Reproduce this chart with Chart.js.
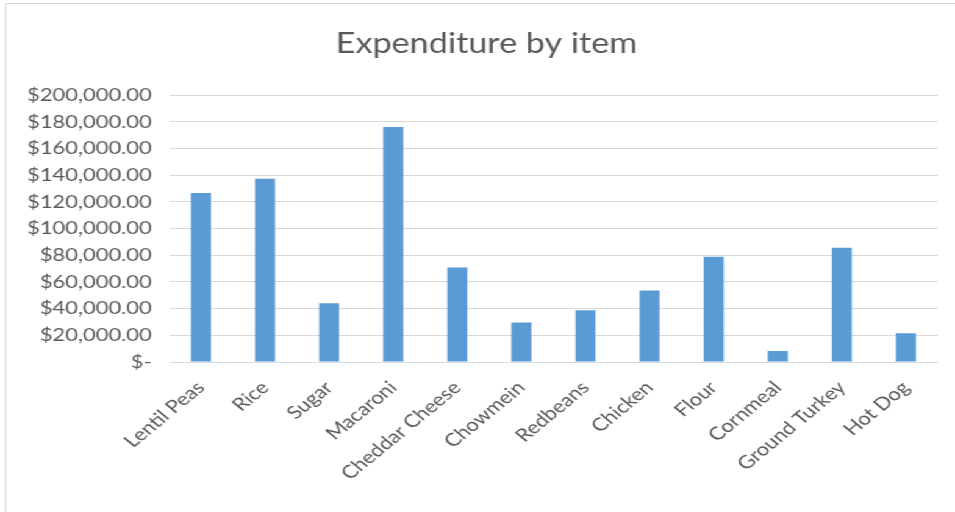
<!DOCTYPE html>
<html>
<head>
<meta charset="utf-8">
<script src="https://cdn.jsdelivr.net/npm/chart.js@4/dist/chart.umd.min.js"></script>
<style>
  html, body { margin: 0; padding: 0; background: #ffffff; overflow: hidden; width: 955px; height: 512px; }
  #stage { position: absolute; left: 0; top: 0; width: 783px; height: 512px; transform: scaleX(1.2197); transform-origin: 0 0; }
  #frame { position: absolute; left: 4px; top: 3px; width: 820px; height: 540px; border: 1px solid #d9d9d9; box-sizing: border-box; }
  #c { position: absolute; left: 0; top: 0; }
</style>
</head>
<body>
<div id="stage">
  <div id="frame"></div>
  <canvas id="c" width="783" height="512"></canvas>
</div>
<script>
const categories = ["Lentil Peas", "Rice", "Sugar", "Macaroni", "Cheddar Cheese", "Chowmein", "Redbeans", "Chicken", "Flour", "Cornmeal", "Ground Turkey", "Hot Dog"];
const expenditure = [126500, 137300, 44000, 176000, 70800, 29500, 38800, 53500, 78800, 8200, 85500, 21500];
const yTickValues = [0, 20000, 40000, 60000, 80000, 100000, 120000, 140000, 160000, 180000, 200000];
const chartTitle = "Expenditure by item";

function fmtMoney(v) {
  if (v === 0) return "$-";
  return "$" + v.toLocaleString("en-US", { minimumFractionDigits: 2, maximumFractionDigits: 2 });
}

const textColor = "#595959";
const fontFamily = "Lato, 'Open Sans', sans-serif";

// Excel centres the title over a slightly wider box than Chart.js does
const titleShift = {
  id: "titleShift",
  afterLayout(chart) {
    if (chart.titleBlock) { chart.titleBlock.left += 28.8; }
  }
};

new Chart(document.getElementById("c"), {
  type: "bar",
  data: {
    labels: categories,
    datasets: [{
      data: expenditure,
      backgroundColor: "#5B9BD5",
      borderWidth: 0,
      categoryPercentage: 1.0,
      barPercentage: 0.3125
    }]
  },
  plugins: [titleShift],
  options: {
    responsive: false,
    animation: false,
    devicePixelRatio: 1,
    layout: { padding: { left: 0, right: 14, top: 0, bottom: 0 } },
    plugins: {
      legend: { display: false },
      tooltip: { enabled: false },
      title: {
        display: true,
        text: chartTitle,
        color: textColor,
        font: { family: fontFamily, size: 28, weight: "normal" },
        padding: { top: 27, bottom: 34.4 }
      }
    },
    scales: {
      x: {
        grid: { display: false },
        border: { display: false },
        ticks: {
          color: textColor,
          font: { family: fontFamily, size: 18 },
          maxRotation: 45,
          minRotation: 45,
          padding: 7,
          autoSkip: false
        },
        afterFit: (s) => { s.height = 150; }
      },
      y: {
        min: 0,
        max: 200000,
        grid: { color: "#d9d9d9", lineWidth: 1, drawTicks: false },
        border: { display: false },
        afterBuildTicks: (s) => { s.ticks = yTickValues.map(v => ({ value: v })); },
        ticks: {
          color: textColor,
          font: { family: fontFamily, size: 18 },
          padding: 14,
          callback: (v) => fmtMoney(v)
        },
        afterFit: (s) => { s.width = 138.5; }
      }
    }
  }
});
</script>
</body>
</html>
